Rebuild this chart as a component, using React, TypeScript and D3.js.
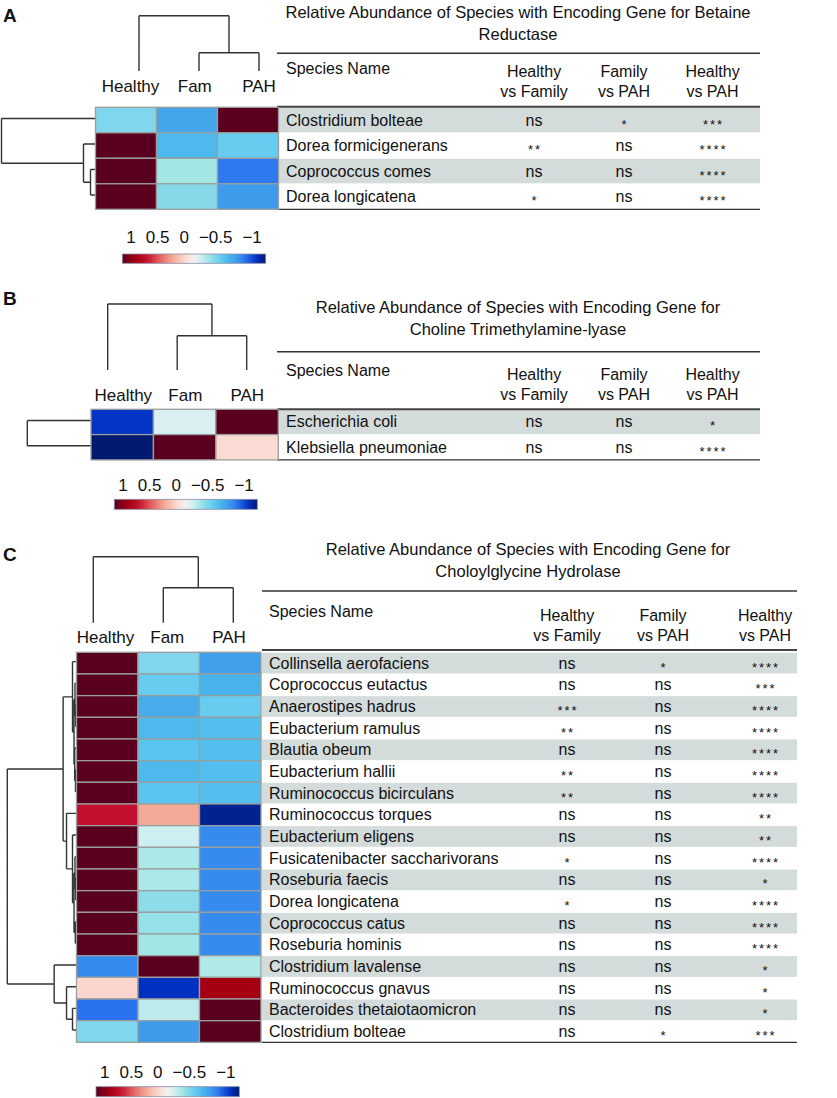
import React from 'react';
import * as d3 from 'd3';

// ---------- DATA ----------
const groups = ['Healthy', 'Fam', 'PAH'];
const compareHeaders = [['Healthy', 'vs Family'], ['Family', 'vs PAH'], ['Healthy', 'vs PAH']];
const legendTicks = ['1', '0.5', '0', '\u22120.5', '\u22121'];

const colorDomain = [-1, -0.88, -0.72, -0.62, -0.5, -0.4, -0.3, -0.2, -0.1, 0, 0.15, 0.3, 0.5, 0.65, 0.8, 1];
const colorRange = ['#001a6e', '#0030c0', '#2a72f0', '#3c96ec', '#48b2ea', '#5cc8f0', '#80d6ec', '#a4e6e4', '#cdeff2', '#f4f0ee', '#fad6cc', '#f4a896', '#e05a5a', '#c41030', '#a50012', '#5a001e'];

// Panel A
const titleA = ['Relative Abundance of Species with Encoding Gene for Betaine', 'Reductase'];
const speciesA = ['Clostridium bolteae', 'Dorea formicigenerans', 'Coprococcus comes', 'Dorea longicatena'];
const valuesA = [
  [-0.3, -0.55, 1],
  [1, -0.47, -0.37],
  [1, -0.2, -0.7],
  [1, -0.28, -0.6],
];
const hvfA = ['ns', '**', 'ns', '*'];
const fvpA = ['*', 'ns', 'ns', 'ns'];
const hvpA = ['***', '****', '****', '****'];
const rowTreeA = { h: 94, c: [0, { h: 12, c: [1, { h: 5, c: [2, 3] }] }] };
const colTreeA = { h: 1, c: [0, { h: 0.33, c: [1, 2] }] };

// Panel B
const titleB = ['Relative Abundance of Species with Encoding Gene for', 'Choline Trimethylamine-lyase'];
const speciesB = ['Escherichia coli', 'Klebsiella pneumoniae'];
const valuesB = [
  [-0.87, -0.07, 1],
  [-1, 1, 0.12],
];
const hvfB = ['ns', 'ns'];
const fvpB = ['ns', 'ns'];
const hvpB = ['*', '****'];
const rowTreeB = { h: 63.7, c: [0, 1] };
const colTreeB = { h: 1, c: [0, { h: 0.52, c: [1, 2] }] };

// Panel C
const titleC = ['Relative Abundance of Species with Encoding Gene for', 'Choloylglycine Hydrolase'];
const speciesC = [
  'Collinsella aerofaciens', 'Coprococcus eutactus', 'Anaerostipes hadrus', 'Eubacterium ramulus',
  'Blautia obeum', 'Eubacterium hallii', 'Ruminococcus bicirculans', 'Ruminococcus torques',
  'Eubacterium eligens', 'Fusicatenibacter saccharivorans', 'Roseburia faecis', 'Dorea longicatena',
  'Coprococcus catus', 'Roseburia hominis', 'Clostridium lavalense', 'Ruminococcus gnavus',
  'Bacteroides thetaiotaomicron', 'Clostridium bolteae',
];
const valuesC = [
  [1, -0.3, -0.58],
  [1, -0.37, -0.5],
  [1, -0.52, -0.37],
  [1, -0.47, -0.44],
  [1, -0.42, -0.44],
  [1, -0.47, -0.44],
  [1, -0.42, -0.44],
  [0.65, 0.3, -0.95],
  [1, -0.1, -0.65],
  [1, -0.18, -0.65],
  [1, -0.18, -0.65],
  [1, -0.26, -0.65],
  [1, -0.24, -0.65],
  [1, -0.2, -0.65],
  [-0.65, 1, -0.17],
  [0.15, -0.88, 0.8],
  [-0.72, -0.14, 1],
  [-0.3, -0.6, 1],
];
const hvfC = ['ns', 'ns', '***', '**', 'ns', '**', '**', 'ns', 'ns', '*', 'ns', '*', 'ns', 'ns', 'ns', 'ns', 'ns', 'ns'];
const fvpC = ['*', 'ns', 'ns', 'ns', 'ns', 'ns', 'ns', 'ns', 'ns', 'ns', 'ns', 'ns', 'ns', 'ns', 'ns', 'ns', 'ns', '*'];
const hvpC = ['****', '***', '****', '****', '****', '****', '****', '**', '**', '****', '*', '****', '****', '****', '*', '*', '*', '***'];
const rowTreeC = {
  h: 69.4,
  c: [
    {
      h: 13.4,
      c: [
        { h: 4, c: [0, { h: 2.5, c: [{ h: 1.5, c: [1, { h: 0.8, c: [2, 3] }] }, { h: 1.8, c: [4, { h: 1, c: [5, 6] }] }] }] },
        { h: 10, c: [7, { h: 4, c: [8, { h: 2.5, c: [{ h: 1.5, c: [9, { h: 0.8, c: [10, 11] }] }, { h: 1.2, c: [12, 13] }] }] }] },
      ],
    },
    { h: 22.4, c: [14, { h: 10, c: [15, { h: 4, c: [16, 17] }] }] },
  ],
};
const colTreeC = { h: 1, c: [0, { h: 0.53, c: [1, 2] }] };

// ---------- LAYOUT ----------
const FONT = "'Liberation Sans', Arial, Helvetica, sans-serif";
const color = d3.scaleLinear<string>().domain(colorDomain).range(colorRange).interpolate(d3.interpolateRgb).clamp(true);

const layoutA = {
  letter: 'A', letterY: 22,
  hm: { x0: 95.5, x1: 278.5, y0: 107.3, rowH: 25.5 },
  dendroLeft: 1.5,
  colLabelY: 92, colLabelRange: [130.5, 259], colLeafRange: [139, 259], colTop: 15.7, colBottom: 71,
  legend: { x: 122.3, y: 254, w: 143.4, h: 9.3, labelY: 243.3 },
  table: { x0: 277, x1: 760, nameX: 286, cols: [534, 624, 712.5], titleX: 518, titleY: [18.3, 40], topRule: 53.3, headRule: 106.7 },
};
const layoutB = {
  letter: 'B', letterY: 305,
  hm: { x0: 91, x1: 278.3, y0: 409.3, rowH: 25.3 },
  dendroLeft: 27.3,
  colLabelY: 401, colLabelRange: [123.3, 247.3], colLeafRange: [107.7, 246.7], colTop: 304, colBottom: 370,
  legend: { x: 114.3, y: 499.3, w: 143, h: 10, labelY: 491 },
  table: { x0: 277, x1: 760, nameX: 286, cols: [534, 624, 712.5], titleX: 518, titleY: [313.3, 335], topRule: 351.7, headRule: 409.3 },
};
const layoutC = {
  letter: 'C', letterY: 561,
  hm: { x0: 76.5, x1: 261, y0: 652.3, rowH: 21.67 },
  dendroLeft: 7.3,
  colLabelY: 643, colLabelRange: [105.5, 229], colLeafRange: [93.3, 233.3], colTop: 556.7, colBottom: 622.7,
  legend: { x: 96, y: 1086.7, w: 143.3, h: 10, labelY: 1078.3 },
  table: { x0: 262, x1: 797, nameX: 269, cols: [567, 663, 765], titleX: 528, titleY: [555, 576.7], topRule: 591, headRule: 650 },
};

type Tree = number | { h: number; c: Tree[] };

// returns position of node; pushes segments into path
function dendro(node: Tree, pos: (i: number) => number, hs: (h: number) => number, path: d3.Path, horizontal: boolean): number {
  if (typeof node === 'number') return pos(node);
  const childInfo = node.c.map((ch) => ({
    p: dendro(ch, pos, hs, path, horizontal),
    h: typeof ch === 'number' ? 0 : ch.h,
  }));
  const nh = hs(node.h);
  childInfo.forEach((ci) => {
    const ch = hs(ci.h);
    if (horizontal) { path.moveTo(ch, ci.p); path.lineTo(nh, ci.p); }
    else { path.moveTo(ci.p, ch); path.lineTo(ci.p, nh); }
  });
  const ps = childInfo.map((c) => c.p);
  const lo = d3.min(ps) as number, hi = d3.max(ps) as number;
  if (horizontal) { path.moveTo(nh, lo); path.lineTo(nh, hi); }
  else { path.moveTo(lo, nh); path.lineTo(hi, nh); }
  return (lo + hi) / 2;
}

function Stars({ x, y, s }: { x: number; y: number; s: string }) {
  if (s === 'ns') {
    return <text x={x} y={y} textAnchor="middle" fontSize={16}>{s}</text>;
  }
  return (
    <text x={x} y={y + 3} textAnchor="middle" fontSize={13} letterSpacing={2} dx={1}>{s}</text>
  );
}

function Panel({ L, title, species, values, sig, rowTree, colTree, gid }: any) {
  const n = species.length;
  const x = d3.scaleBand<string>().domain(groups).range([L.hm.x0, L.hm.x1]);
  const y = d3.scaleBand<number>().domain(d3.range(n)).range([L.hm.y0, L.hm.y0 + n * L.hm.rowH]);
  const labelX = d3.scalePoint<string>().domain(groups).range(L.colLabelRange);
  const leafX = d3.scalePoint<string>().domain(groups).range(L.colLeafRange);

  // row dendrogram
  const rowH = d3.scaleLinear().domain([0, rowTree.h]).range([L.hm.x0, L.dendroLeft]);
  const rp = d3.path();
  dendro(rowTree, (i) => (y(i) as number) + y.bandwidth() / 2 - 1.5, rowH, rp, true);

  // column dendrogram
  const colH = d3.scaleLinear().domain([0, colTree.h]).range([L.colBottom, L.colTop]);
  const cp = d3.path();
  dendro(colTree, (i) => leafX(groups[i]) as number, colH, cp, false);

  const legendScale = d3.scaleLinear().domain([0, 1]).range([1, -1]);
  const stops = d3.range(0, 1.0001, 0.05);

  const T = L.table;
  return (
    <g>
      <text x={3} y={L.letterY} fontSize={19} fontWeight="bold" fill="#111">{L.letter}</text>
      {/* column dendrogram & labels */}
      <path d={cp.toString()} stroke="#333" strokeWidth={1.4} fill="none" />
      {groups.map((g) => (
        <text key={g} x={labelX(g)} y={L.colLabelY} textAnchor="middle" fontSize={17} fill="#111">{g}</text>
      ))}
      {/* row dendrogram */}
      <path d={rp.toString()} stroke="#333" strokeWidth={1.4} fill="none" />

      {/* table */}
      <g>
        {title.map((t: string, i: number) => (
          <text key={i} x={T.titleX} y={T.titleY[i]} textAnchor="middle" fontSize={16.5} fill="#111">{t}</text>
        ))}
        <line x1={T.x0} x2={T.x1} y1={T.topRule} y2={T.topRule} stroke="#333" strokeWidth={1.5} />
        <text x={T.nameX} y={T.headRule - 33} fontSize={16} fill="#111">Species Name</text>
        {compareHeaders.map((h, i) => (
          <g key={i}>
            <text x={T.cols[i]} y={T.headRule - 29.5} textAnchor="middle" fontSize={16} fill="#111">{h[0]}</text>
            <text x={T.cols[i]} y={T.headRule - 9.5} textAnchor="middle" fontSize={16} fill="#111">{h[1]}</text>
          </g>
        ))}
        {species.map((s: string, i: number) => (
          <g key={s + i}>
            {i % 2 === 0 && (
              <rect x={T.x0} y={(y(i) as number) + 0.5} width={T.x1 - T.x0} height={y.bandwidth() - 1} fill="#d4dbdb" />
            )}
          </g>
        ))}
        <line x1={T.x0} x2={T.x1} y1={T.headRule} y2={T.headRule} stroke="#444" strokeWidth={2} />
        <line x1={T.x0} x2={T.x1} y1={L.hm.y0 + n * L.hm.rowH} y2={L.hm.y0 + n * L.hm.rowH} stroke="#333" strokeWidth={1.3} />
        {species.map((s: string, i: number) => {
          const by = (y(i) as number) + y.bandwidth() / 2 + 5.5;
          return (
            <g key={'t' + i} fill="#111">
              <text x={T.nameX} y={by} fontSize={16}>{s}</text>
              {sig.map((col: string[], j: number) => (
                <Stars key={j} x={T.cols[j]} y={by} s={col[i]} />
              ))}
            </g>
          );
        })}
      </g>

      {/* heatmap */}
      {values.map((row: number[], i: number) =>
        row.map((v, j) => (
          <rect key={i + '-' + j} x={x(groups[j])} y={y(i)} width={x.bandwidth()} height={y.bandwidth()}
            fill={color(v)} stroke="#9a9e9e" strokeWidth={1.3} />
        ))
      )}

      {/* legend */}
      <defs>
        <linearGradient id={gid} x1="0" x2="1" y1="0" y2="0">
          {stops.map((t) => (
            <stop key={t} offset={t} stopColor={color(legendScale(t))} />
          ))}
        </linearGradient>
      </defs>
      <text x={L.legend.x + 4} y={L.legend.labelY} fontSize={17} fill="#111">
        {legendTicks.map((t, i) => (
          <tspan key={t} dx={i === 0 ? 0 : 10}>{t}</tspan>
        ))}
      </text>
      <rect x={L.legend.x} y={L.legend.y} width={L.legend.w} height={L.legend.h} fill={`url(#${gid})`} stroke="#8c8ca8" strokeWidth={0.8} />
    </g>
  );
}

export default function App() {
  return (
    <svg width={837} height={1098} style={{ position: 'absolute', left: 0, top: 0, background: '#fff' }} fontFamily={FONT}>
      <rect width={837} height={1098} fill="#fff" />
      <Panel L={layoutA} title={titleA} species={speciesA} values={valuesA} sig={[hvfA, fvpA, hvpA]} rowTree={rowTreeA} colTree={colTreeA} gid="gA" />
      <Panel L={layoutB} title={titleB} species={speciesB} values={valuesB} sig={[hvfB, fvpB, hvpB]} rowTree={rowTreeB} colTree={colTreeB} gid="gB" />
      <Panel L={layoutC} title={titleC} species={speciesC} values={valuesC} sig={[hvfC, fvpC, hvpC]} rowTree={rowTreeC} colTree={colTreeC} gid="gC" />
    </svg>
  );
}
